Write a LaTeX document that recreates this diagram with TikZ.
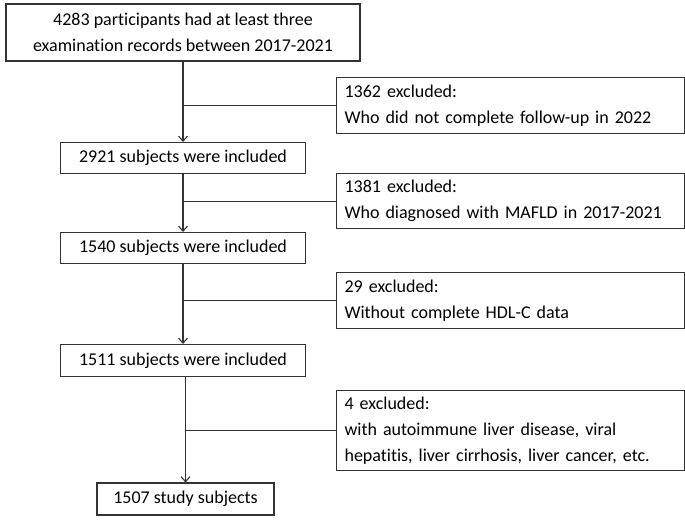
\documentclass[tikz,border=0pt]{standalone}
\usepackage{fontspec}
\setmainfont{Carlito}[Ligatures={NoCommon}]
\usetikzlibrary{arrows.meta}
\newcommand{\fsz}{\fontsize{18}{26}\selectfont}
\tikzset{
  box/.style={draw=black!80, line width=1.1pt, inner sep=0pt, font=\fsz, align=center},
  exbox/.style={box, anchor=north west, minimum width=346pt, text width=332pt, align=left, inner xsep=8pt},
  conn/.style={draw=black!80, line width=1.1pt},
  arr/.style={conn, -{Straight Barb[length=5pt,width=9pt,line width=1.1pt]}}
}
\begin{document}
\begin{tikzpicture}[x=1pt,y=-1pt]
\useasboundingbox (0,0) rectangle (685,520);
\node[box, minimum width=354pt, minimum height=57pt] (b1) at (183,32.5) {4283 participants had at least three\\examination records between 2017-2021};
\node[box, minimum width=245pt, minimum height=31pt] (b2) at (183,158) {2921 subjects were included};
\node[box, minimum width=245pt, minimum height=31pt] (b3) at (183,248) {1540 subjects were included};
\node[box, minimum width=245pt, minimum height=32pt] (b4) at (183,360.5) {1511 subjects were included};
\node[box, minimum width=177pt, minimum height=32pt] (b5) at (185.5,499) {1507 study subjects};
\node[exbox, minimum height=56pt] (e1) at (336,77) {1362 excluded:\\Who did not complete follow-up in 2022};
\node[exbox, minimum height=55pt] (e2) at (336,173) {1381 excluded:\\Who diagnosed with MAFLD in 2017-2021};
\node[exbox, minimum height=56pt] (e3) at (336,272) {29 excluded:\\Without complete HDL-C data};
\node[exbox, minimum height=80pt] (e4) at (336,390) {4 excluded:\\with autoimmune liver disease, viral\\hepatitis, liver cirrhosis, liver cancer, etc.};
\draw[arr] (b1.south) -- (b2.north);
\draw[arr] (b2.south) -- (b3.north);
\draw[arr] (b3.south) -- (b4.north);
\draw[arr] (b4.south -| b5.north) -- (b5.north);
\draw[conn] (b1.south |- e1.west) -- (e1.west);
\draw[conn] (b2.south |- e2.west) -- (e2.west);
\draw[conn] (b3.south |- e3.west) -- (e3.west);
\draw[conn] (b5.north |- e4.west) -- (e4.west);
\end{tikzpicture}
\end{document}
